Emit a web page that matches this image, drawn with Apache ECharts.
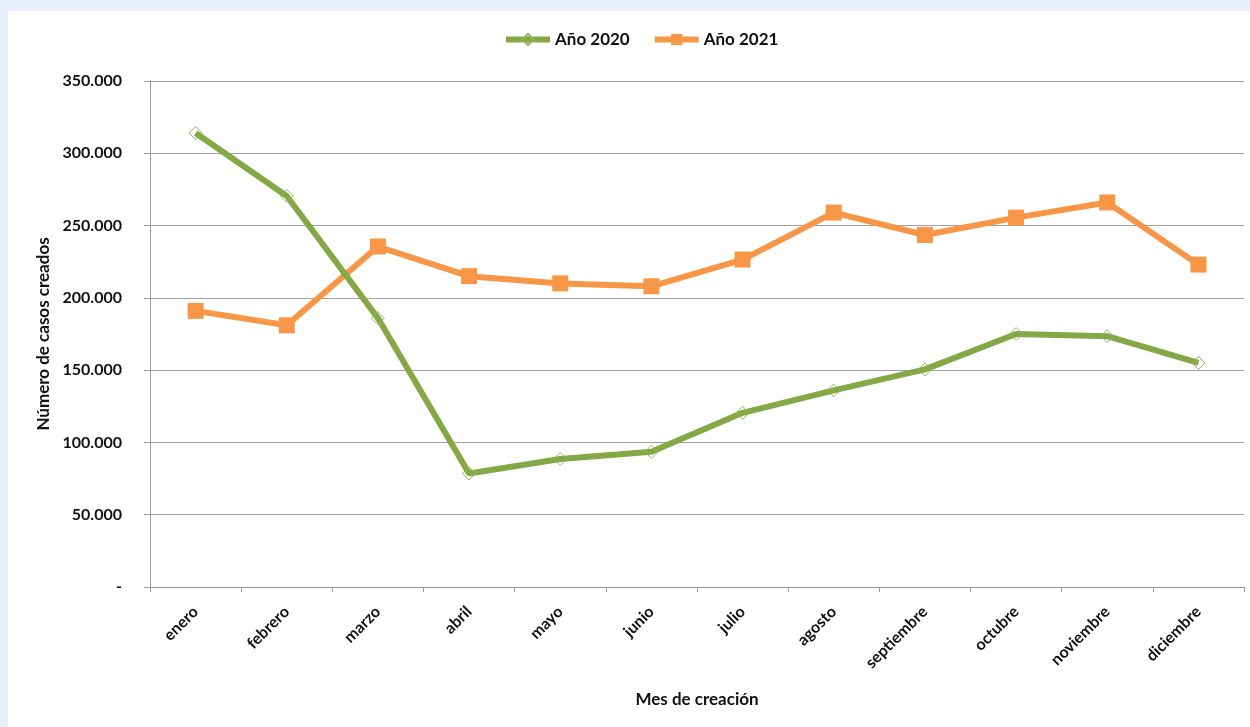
<!DOCTYPE html>
<html>
<head>
<meta charset="utf-8">
<script src="https://cdn.jsdelivr.net/npm/echarts@6/dist/echarts.min.js"></script>
<style>
  html, body { margin: 0; padding: 0; background: #e9f0fc; width: 1250px; height: 727px; overflow: hidden; }
  #main { position: absolute; left: 8px; top: 11px; width: 1242px; height: 716px; background: #ffffff; }
</style>
</head>
<body>
<div id="main"></div>
<script>
var meses = ['enero', 'febrero', 'marzo', 'abril', 'mayo', 'junio', 'julio', 'agosto', 'septiembre', 'octubre', 'noviembre', 'diciembre'];
var casos2020 = [314000, 270500, 186000, 78500, 88500, 93500, 120500, 136000, 150500, 175000, 173500, 155000];
var casos2021 = [191000, 181000, 235500, 215000, 210000, 208000, 226500, 259000, 243500, 255500, 266000, 223000];

var chartDom = document.getElementById('main');
var myChart = echarts.init(chartDom);
var option;

var fuente = 'Lato';

function formatoMiles(v) {
    if (v === 0) return '-';
    return String(v).replace(/\B(?=(\d{3})+(?!\d))/g, '.');
}

option = {
    animation: false,
    textStyle: { fontFamily: fuente },
    legend: {
        top: 15,
        left: 490,
        itemWidth: 44,
        itemHeight: 14,
        itemGap: 22,
        lineStyle: { width: 6 },
        textStyle: { fontFamily: fuente, fontWeight: 'bold', fontSize: 17, color: '#111' },
        data: ['Año 2020', 'Año 2021']
    },
    grid: {
        left: 142,
        right: 6,
        top: 70,
        bottom: 140
    },
    xAxis: {
        type: 'category',
        data: meses,
        name: 'Mes de creación',
        nameLocation: 'middle',
        nameGap: 104,
        nameTextStyle: { fontFamily: fuente, fontWeight: 'bold', fontSize: 17, color: '#111' },
        axisLine: { lineStyle: { color: '#9a9a9a', width: 1 } },
        axisTick: { show: true, length: 5, lineStyle: { color: '#9a9a9a' } },
        axisLabel: {
            rotate: 45,
            margin: 22,
            fontFamily: fuente,
            fontWeight: 'bold',
            fontSize: 16,
            color: '#111'
        }
    },
    yAxis: {
        type: 'value',
        min: 0,
        max: 350000,
        interval: 50000,
        name: 'Número de casos creados',
        nameLocation: 'middle',
        nameGap: 96,
        nameRotate: 90,
        nameTextStyle: { fontFamily: fuente, fontWeight: 'bold', fontSize: 17, color: '#111' },
        axisLine: { show: true, lineStyle: { color: '#9a9a9a', width: 1 } },
        axisTick: { show: true, length: 6, lineStyle: { color: '#9a9a9a' } },
        splitLine: { lineStyle: { color: '#a0a0a0', width: 1 } },
        axisLabel: {
            margin: 28,
            fontFamily: fuente,
            fontWeight: 'bold',
            fontSize: 16,
            color: '#111',
            formatter: formatoMiles
        }
    },
    series: [
        {
            name: 'Año 2020',
            type: 'line',
            data: casos2020,
            symbol: 'diamond',
            symbolSize: 13,
            lineStyle: { color: '#85a846', width: 6 },
            itemStyle: { color: 'rgba(255,255,255,0)', borderColor: '#8fb45a', borderWidth: 1 },
            z: 3
        },
        {
            name: 'Año 2021',
            type: 'line',
            data: casos2021,
            symbol: 'rect',
            symbolSize: 16,
            lineStyle: { color: '#f79646', width: 6 },
            itemStyle: { color: '#f79646' },
            z: 2
        }
    ]
};

option && myChart.setOption(option);
</script>
</body>
</html>
